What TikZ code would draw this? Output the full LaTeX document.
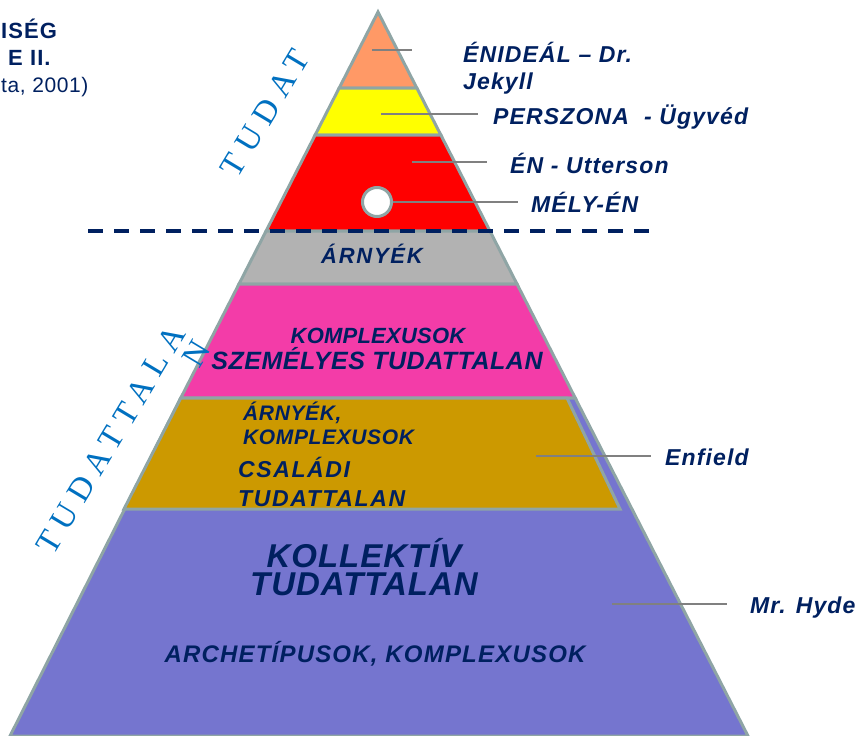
\documentclass[tikz,border=0pt]{standalone}
\usepackage{fontspec}
\setmainfont{Liberation Sans}
\newfontfamily\tudatfont{Liberation Serif}[LetterSpace=25]
\definecolor{navy}{HTML}{002060}
\definecolor{tudatblue}{HTML}{0070C0}
\definecolor{edgegrey}{HTML}{8FA5A5}
\definecolor{leadergrey}{HTML}{808080}
\definecolor{idealorange}{HTML}{FF9966}
\definecolor{personayellow}{HTML}{FFFF00}
\definecolor{egored}{HTML}{FF0000}
\definecolor{shadowgrey}{HTML}{B2B2B2}
\definecolor{personalpink}{HTML}{F33CA8}
\definecolor{familygold}{HTML}{CC9900}
\definecolor{collectivepurple}{HTML}{7575CF}
% bold italic, size / baselineskip / letter spacing
\newcommand\bi[3]{\bfseries\itshape\fontsize{#1}{#2}\selectfont\addfontfeature{LetterSpace=#3}}

\begin{document}
\begin{tikzpicture}[x=1pt,y=-1pt,
  layer/.style={draw=edgegrey,line width=3pt},
  leader/.style={leadergrey,line width=1.5pt},
  txt/.style={text=navy,inner sep=0pt,anchor=base},
  lbl/.style={txt,anchor=base west,align=left,font=\bi{23}{27}{5}},
  tudat/.style={text=tudatblue,inner sep=0pt,rotate=59,align=right,font=\tudatfont\fontsize{33}{29}\selectfont}]
\useasboundingbox (0,0) rectangle (863,736);

% layers of the pyramid
\draw[layer,fill=idealorange] (378,12) coordinate (apex) -- (416.8,88) -- (339.2,88) -- cycle;
\foreach \ya/\yb/\col in {88/135/personayellow,135/231/egored,231/284/shadowgrey,284/398/personalpink}
  \draw[layer,fill=\col] ({378-0.511*(\ya-12)},\ya) -- ({378+0.511*(\ya-12)},\ya)
    -- ({378+0.511*(\yb-12)},\yb) -- ({378-0.511*(\yb-12)},\yb) -- cycle;
\draw[layer,fill=collectivepurple] (180.8,398) -- (575.2,398) -- (748,736) -- (10,736) -- cycle;
\draw[layer,fill=familygold] (180.8,398) -- (567,398) -- (620,509) -- (124,509) -- cycle;

% border between conscious and unconscious
\path (88,231) coordinate (border-l) (660,231) coordinate (border-r);
\draw[navy,line width=4pt,dash pattern=on 15pt off 11pt] (border-l) -- (border-r);

\node[circle,draw=edgegrey,fill=white,line width=3pt,minimum size=29pt,inner sep=0pt] (deepself) at (377,202) {};

% texts inside the layers
\node[txt,font=\bi{22}{22}{8}] (shadow) at (372,263) {ÁRNYÉK};
\node[txt,font=\bi{22}{22}{1}] (complexes) at (378,343) {KOMPLEXUSOK};
\node[txt,font=\bi{25}{25}{2}] (personal) at (377,369) {SZEMÉLYES TUDATTALAN};
\node[txt,anchor=base west,align=left,font=\bi{21}{24}{3}] (familyshadow) at (243,444) {ÁRNYÉK,\\KOMPLEXUSOK};
\node[txt,anchor=base west,align=left,font=\bi{23}{29}{7}] (family) at (238,506) {CSALÁDI\\TUDATTALAN};
\node[txt,align=center,font=\bi{33}{28}{3}] (collective) at (364,595) {KOLLEKTÍV\\TUDATTALAN};
\node[txt,font=\bi{24}{24}{5}] (archetypes) at (375,662) {ARCHETÍPUSOK, KOMPLEXUSOK};

% labels on the right
\path (372,50) coordinate (ideal-in) (412,50) coordinate (ideal-out)
  (381,114) coordinate (persona-in) (478,114) coordinate (persona-out)
  (412,162) coordinate (ego-in) (487,162) coordinate (ego-out)
  (518,202) coordinate (deep-out)
  (536,456) coordinate (enfield-in) (651,456) coordinate (enfield-out)
  (612,604) coordinate (hyde-in) (727,604) coordinate (hyde-out);
\draw[leader] (ideal-in) -- (ideal-out);
\draw[leader] (persona-in) -- (persona-out);
\draw[leader] (ego-in) -- (ego-out);
\draw[leader] (deepself.east) -- (deep-out);
\draw[leader] (enfield-in) -- (enfield-out);
\draw[leader] (hyde-in) -- (hyde-out);
\node[lbl] (ideal) at (463,89) {ÉNIDEÁL – Dr.\\Jekyll};
\node[lbl] (persona) at (493,124) {PERSZONA~ - Ügyvéd};
\node[lbl] (ego) at (510,173) {ÉN - Utterson};
\node[lbl] (deep) at (531,212) {MÉLY-ÉN};
\node[lbl] (enfield) at (665,465) {Enfield};
\node[lbl] (hyde) at (750,613) {Mr. Hyde};

% along the left side
\node[tudat] (conscious) at (265,113) {TUDAT};
\node[tudat] (unconscious) at (123,447) {TUDATTALA\\N};

% title, cut at the left edge
\node[text=navy,inner sep=0pt,anchor=base west,font=\bfseries\fontsize{22}{22}\selectfont\addfontfeature{LetterSpace=5}] (title1) at (1,38) {ISÉG};
\node[text=navy,inner sep=0pt,anchor=base west,font=\bfseries\fontsize{22}{22}\selectfont\addfontfeature{LetterSpace=5}] (title2) at (8,65) {E II.};
\node[text=navy,inner sep=0pt,anchor=base west,font=\fontsize{21}{21}\selectfont\addfontfeature{LetterSpace=3}] (source) at (1,92) {ta, 2001)};
\end{tikzpicture}
\end{document}
